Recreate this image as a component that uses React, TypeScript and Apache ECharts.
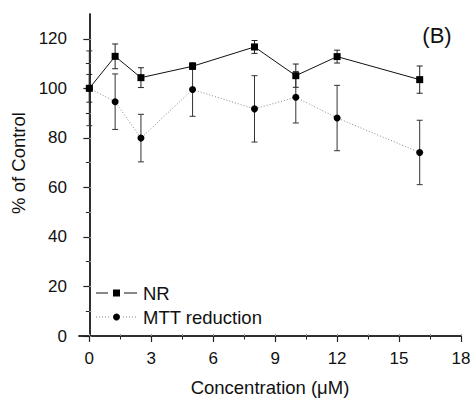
import React, { useEffect, useRef } from "react";
import * as echarts from "echarts";

const concentrations = [0, 1.25, 2.5, 5, 8, 10, 12, 16];
const nrValues = [100, 112.9, 104.3, 108.9, 116.7, 105.1, 112.8, 103.5];
const nrErrors = [5.6, 5.0, 4.0, 1.3, 2.6, 4.7, 2.6, 5.5];
const mttValues = [100, 94.6, 79.9, 99.5, 91.7, 96.4, 88.0, 74.1];
const mttErrors = [15.1, 11.2, 9.6, 10.8, 13.4, 10.4, 13.2, 13.0];
const xMajorTicks = [0, 3, 6, 9, 12, 15, 18];
const xMinorTicks = [1.5, 4.5, 7.5, 10.5, 13.5, 16.5];
const yMajorTicks = [0, 20, 40, 60, 80, 100, 120];
const yMinorTicks = [10, 30, 50, 70, 90, 110];
const legendLabels = ["NR", "MTT reduction"];

const FONT = "'Liberation Sans', Arial, sans-serif";
const AXIS_COLOR = "#222";
const DOT_COLOR = "#888";
const BIG = 18.5;

export default function App() {
  const ref = useRef<HTMLDivElement>(null);
  useEffect(() => {
    if (!ref.current) return;
    const chart = echarts.init(ref.current, undefined, { renderer: "svg" });

    const nrData = concentrations.map((x, i) => [x, nrValues[i]]);
    const mttData = concentrations.map((x, i) => [x, mttValues[i]]);
    const nrErr = concentrations.map((x, i) => [x, nrValues[i], nrErrors[i]]);
    const mttErr = concentrations.map((x, i) => [x, mttValues[i], mttErrors[i]]);

    const errRender = (color: string) => (params: any, api: any) => {
      const x = api.value(0);
      const y = api.value(1);
      const e = api.value(2);
      const top = api.coord([x, y + e]);
      const bot = api.coord([x, y - e]);
      const hw = 3;
      const style = { stroke: color, lineWidth: 1 };
      return {
        type: "group",
        children: [
          { type: "line", shape: { x1: top[0], y1: top[1], x2: bot[0], y2: bot[1] }, style },
          { type: "line", shape: { x1: top[0] - hw, y1: top[1], x2: top[0] + hw, y2: top[1] }, style },
          { type: "line", shape: { x1: bot[0] - hw, y1: bot[1], x2: bot[0] + hw, y2: bot[1] }, style },
        ],
      };
    };

    const xBase = { type: "value", min: -0.5, max: 18, splitLine: { show: false } };
    const yBase = { type: "value", min: 0, max: 130, splitLine: { show: false } };

    const ly1 = 293;
    const ly2 = 317;
    const legendGraphics = [
      { type: "line", shape: { x1: 96, y1: ly1, x2: 108, y2: ly1 }, style: { stroke: "#111", lineWidth: 1 } },
      { type: "line", shape: { x1: 124, y1: ly1, x2: 137, y2: ly1 }, style: { stroke: "#111", lineWidth: 1 } },
      { type: "rect", shape: { x: 113, y: ly1 - 3.5, width: 7, height: 7 }, style: { fill: "#000" } },
      { type: "text", x: 143, y: ly1, style: { text: legendLabels[0], fontFamily: FONT, fontSize: BIG, fill: "#111", verticalAlign: "middle" } },
      { type: "line", shape: { x1: 96, y1: ly2, x2: 109, y2: ly2 }, style: { stroke: DOT_COLOR, lineWidth: 1, lineDash: [1, 2] } },
      { type: "line", shape: { x1: 123, y1: ly2, x2: 136, y2: ly2 }, style: { stroke: DOT_COLOR, lineWidth: 1, lineDash: [1, 2] } },
      { type: "circle", shape: { cx: 116.5, cy: ly2, r: 3.5 }, style: { fill: "#000" } },
      { type: "text", x: 143, y: ly2, style: { text: legendLabels[1], fontFamily: FONT, fontSize: BIG, fill: "#111", verticalAlign: "middle" } },
    ];

    chart.setOption({
      animation: false,
      textStyle: { fontFamily: FONT },
      grid: { left: 79, top: 14, right: 13, bottom: 62, containLabel: false, outerBoundsMode: "none" },
      xAxis: [
        {
          ...xBase,
          position: "bottom",
          name: "Concentration (μM)",
          nameLocation: "middle",
          nameGap: 42,
          nameTextStyle: { fontFamily: FONT, fontSize: BIG, color: "#111" },
          axisLine: { show: true, lineStyle: { color: AXIS_COLOR, width: 1.5 } },
          axisTick: { show: true, inside: false, length: 6, customValues: xMajorTicks, lineStyle: { color: AXIS_COLOR, width: 1.2 } },
          axisLabel: { customValues: xMajorTicks, margin: 14, fontSize: 17, color: "#111", fontFamily: FONT },
        },
        {
          ...xBase,
          position: "bottom",
          axisLine: { show: false },
          axisTick: { show: true, length: 3.5, customValues: xMinorTicks, lineStyle: { color: AXIS_COLOR, width: 1 } },
          axisLabel: { show: false },
        },
        {
          ...xBase,
          position: "top",
          axisLine: { show: true, lineStyle: { color: AXIS_COLOR, width: 1.5 } },
          axisTick: { show: true, length: 2, customValues: xMinorTicks.concat(xMajorTicks), lineStyle: { color: "#999", width: 1 } },
          axisLabel: { show: false },
        },
      ],
      yAxis: [
        {
          ...yBase,
          position: "left",
          axisLine: { show: true, lineStyle: { color: AXIS_COLOR, width: 1.5 } },
          axisTick: { show: true, length: 6, customValues: yMajorTicks, lineStyle: { color: AXIS_COLOR, width: 1.2 } },
          axisLabel: { customValues: yMajorTicks, margin: 12, fontSize: 17, color: "#111", fontFamily: FONT },
        },
        {
          ...yBase,
          position: "left",
          axisLine: { show: false },
          axisTick: { show: true, length: 3.5, customValues: yMinorTicks, lineStyle: { color: AXIS_COLOR, width: 1 } },
          axisLabel: { show: false },
        },
        {
          ...yBase,
          position: "right",
          axisLine: { show: true, lineStyle: { color: AXIS_COLOR, width: 1.5 } },
          axisTick: { show: true, length: 2, customValues: yMinorTicks.concat(yMajorTicks), lineStyle: { color: "#999", width: 1 } },
          axisLabel: { show: false },
        },
      ],
      graphic: [
        {
          type: "text",
          x: 18,
          y: 163,
          rotation: Math.PI / 2,
          style: { text: "% of Control", fontFamily: FONT, fontSize: BIG, fill: "#111", align: "center", verticalAlign: "middle" },
        },
        {
          type: "text",
          x: 437,
          y: 35,
          style: { text: "(B)", fontFamily: FONT, fontSize: 22, fill: "#111", align: "center", verticalAlign: "middle" },
        },
        ...legendGraphics,
      ],
      series: [
        {
          name: "NR err",
          type: "custom",
          xAxisIndex: 0,
          yAxisIndex: 0,
          renderItem: errRender("#222"),
          encode: { x: 0, y: 1 },
          data: nrErr,
          z: 1,
        },
        {
          name: "MTT err",
          type: "custom",
          xAxisIndex: 0,
          yAxisIndex: 0,
          renderItem: errRender("#333"),
          encode: { x: 0, y: 1 },
          data: mttErr,
          z: 1,
        },
        {
          name: legendLabels[0],
          type: "line",
          data: nrData,
          symbol: "rect",
          symbolSize: 7,
          itemStyle: { color: "#000" },
          lineStyle: { color: "#111", width: 1 },
          z: 3,
        },
        {
          name: legendLabels[1],
          type: "line",
          data: mttData,
          symbol: "circle",
          symbolSize: 7,
          itemStyle: { color: "#000" },
          lineStyle: { color: DOT_COLOR, width: 1, type: [1, 2] },
          z: 2,
        },
      ],
    });
    return () => chart.dispose();
  }, []);
  return <div ref={ref} style={{ width: 474, height: 398, position: "absolute", left: 0, top: 0 }} />;
}
